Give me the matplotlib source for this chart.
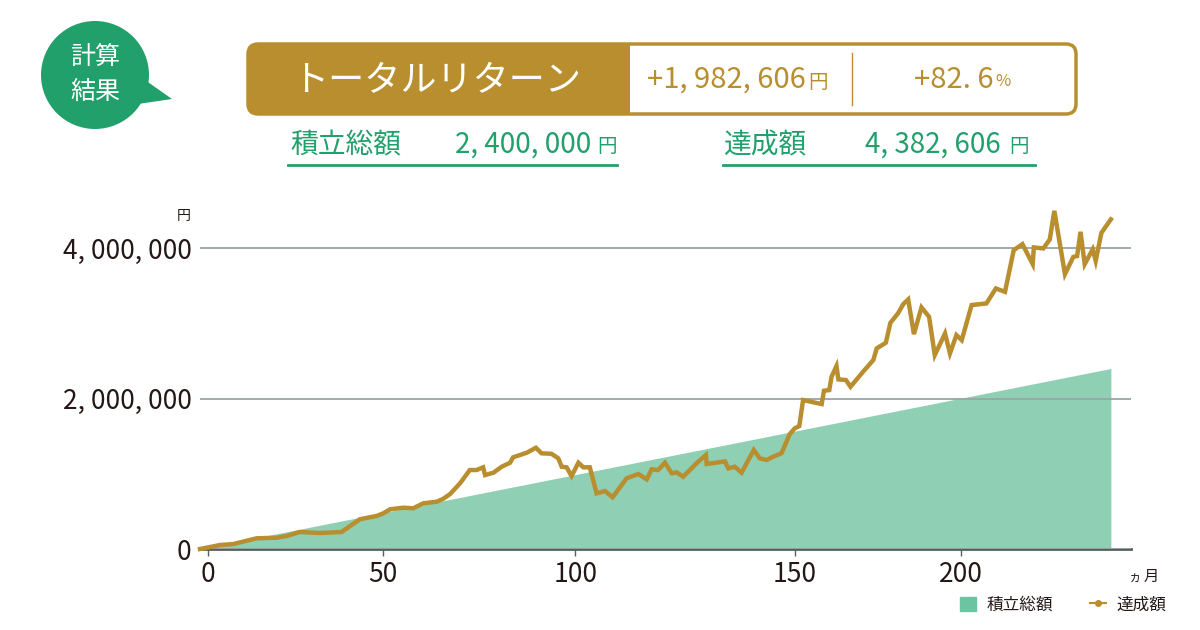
import matplotlib
matplotlib.use('Agg')
import matplotlib.pyplot as plt
from matplotlib.patches import FancyBboxPatch, Rectangle, Circle, Polygon, Patch
from matplotlib.lines import Line2D

plt.rcParams['font.family'] = ['Noto Sans CJK JP', 'DejaVu Sans']

# --- data (month, yen) ---
months = [0, 5.3, 8.8, 14.9, 20.2, 22.8, 26.3, 31.6, 37.3, 42.1, 46.5, 48.3, 50.1, 53.6,
          56.2, 58.8, 62.4, 64.1, 65.9, 68.5, 71.1, 72.9, 74.6, 75.1, 77.3, 79.5, 81.7,
          82.5, 86.1, 88.5, 90.0, 92.6, 94.4, 95.3, 96.6, 97.9, 99.7, 101.0, 102.7, 104.5,
          106.7, 108.7, 112.4, 115.5, 117.7, 119.0, 120.7, 122.5, 124.3, 125.6, 127.3,
          130.8, 133.3, 133.5, 138.3, 139.2, 140.9, 142.7, 145.9, 147.5, 149.3, 151.0,
          153.2, 155.4, 156.7, 157.9, 158.9, 163.8, 164.4, 165.8, 166.4, 167.7, 168.2,
          170.2, 171.4, 174.7, 177.4, 178.3, 180.7, 181.9, 183.9, 185.3, 186.6, 188.1,
          190.1, 192.1, 193.6, 196.3, 197.6, 199.3, 200.7, 203.3, 207.2, 209.7, 212.1,
          214.4, 216.7, 219.4, 219.7, 222.2, 223.9, 225.1, 227.9, 230.1, 231.1, 232.0,
          233.1, 235.2, 236.0, 237.5, 240]
values = [0, 53000, 66000, 142000, 150000, 173000, 226000, 213000, 226000, 395000, 439000,
          474000, 528000, 549000, 541000, 607000, 629000, 668000, 731000, 873000, 1050000,
          1050000, 1086000, 983000, 1014000, 1094000, 1147000, 1219000, 1280000, 1346000,
          1272000, 1266000, 1205000, 1094000, 1086000, 970000, 1147000, 1086000, 1086000,
          740000, 771000, 687000, 940000, 997000, 926000, 1059000, 1050000, 1147000,
          1006000, 1019000, 961000, 1139000, 1249000, 1130000, 1165000, 1072000, 1094000,
          1014000, 1316000, 1205000, 1183000, 1227000, 1272000, 1528000, 1604000, 1635000,
          1980000, 1927000, 2104000, 2113000, 2290000, 2432000, 2255000, 2246000, 2157000,
          2356000, 2512000, 2667000, 2742000, 3007000, 3132000, 3256000, 3318000, 2857000,
          3212000, 3087000, 2578000, 2866000, 2601000, 2844000, 2777000, 3243000, 3265000,
          3464000, 3419000, 3973000, 4053000, 3787000, 4009000, 3996000, 4116000, 4496000,
          3654000, 3884000, 3894000, 4217000, 3787000, 3983000, 3831000, 4203000, 4382606]

contrib_months = [0, 240]
contrib_values = [0, 2400000]

tick_pos = [2.2, 48.1, 98.9, 156.7, 200.6]
tick_labels = ['0', '50', '100', '150', '200']
ytick_vals = [0, 2000000, 4000000]
ytick_labels = ['0', '2, 000, 000', '4, 000, 000']

GOLD = '#b88e2f'
GREEN = '#22a06b'
FILL = '#8fd0b5'
INK = '#231815'

fig = plt.figure(figsize=(12, 6.3), dpi=100)

# --- chart ---
ax = fig.add_axes([200 / 1200, 81 / 630, 931 / 1200, 346 / 630])
ax.fill_between(contrib_months, contrib_values, color=FILL, lw=0, zorder=1)
ax.plot(months, values, color=GOLD, lw=3.2, zorder=3, solid_joinstyle='miter', clip_on=False)
ax.set_xlim(0, 245.3)
ax.set_ylim(0, 4600000)
ax.set_xticks(tick_pos, tick_labels)
ax.set_yticks(ytick_vals, ytick_labels)
ax.yaxis.grid(True, color='#97a5a5', lw=1.3, zorder=2)
ax.set_axisbelow(False)
for s in ['top', 'right', 'left']:
    ax.spines[s].set_visible(False)
ax.spines['bottom'].set_color('#55615f')
ax.spines['bottom'].set_linewidth(2)
ax.spines['bottom'].set_zorder(2.5)
ax.tick_params(axis='y', length=0, pad=6, labelsize=19, labelcolor=INK)
ax.tick_params(axis='x', length=5, width=1, color='#55615f', pad=4, labelsize=19, labelcolor=INK)

# --- overlay in pixel coordinates ---
ov = fig.add_axes([0, 0, 1, 1], zorder=-1)
ov.set_xlim(0, 1200)
ov.set_ylim(630, 0)
ov.axis('off')

ov.text(184, 216, '円', fontsize=10, color=INK, ha='center', va='center')
ov.text(1135, 577, 'ヵ', fontsize=9, color=INK, ha='center', va='center')
ov.text(1151, 576, '月', fontsize=11, color=INK, ha='center', va='center')

# speech bubble
ov.add_patch(Circle((95, 75), 54, color=GREEN, lw=0))
ov.add_patch(Polygon([(145, 80), (172, 99), (138, 104)], closed=True, color=GREEN, lw=0))
ov.text(95, 58, '計算', fontsize=18, color='white', ha='center', va='center')
ov.text(95, 92, '結果', fontsize=18, color='white', ha='center', va='center')

# result box
box = 'round,pad=0,rounding_size=10'
ov.add_patch(FancyBboxPatch((248, 44), 828, 70, boxstyle=box, fc='white', ec='none'))
ov.add_patch(FancyBboxPatch((248, 44), 410, 70, boxstyle=box, fc=GOLD, ec='none'))
ov.add_patch(Rectangle((630, 44), 30, 70, fc='white', ec='none'))
ov.add_patch(FancyBboxPatch((248, 44), 828, 70, boxstyle=box, fc='none', ec=GOLD, lw=2.5))
ov.plot([852, 852], [53, 105], color=GOLD, lw=1)
ov.text(437, 80, 'トータルリターン', fontsize=26, color='white', ha='center', va='center')
ov.text(806, 80, '+1, 982, 606', fontsize=21, color=GOLD, ha='right', va='center')
ov.text(808, 82, '円', fontsize=14, color=GOLD, ha='left', va='center')
ov.text(994, 80, '+82. 6', fontsize=21, color=GOLD, ha='right', va='center')
ov.text(995, 82, '%', fontsize=12, color=GOLD, ha='left', va='center')

# summary lines
ov.text(290, 145, '積立総額', fontsize=20, color=GREEN, ha='left', va='center')
ov.text(591, 145, '2, 400, 000', fontsize=20, color=GREEN, ha='right', va='center')
ov.text(597, 147, '円', fontsize=14, color=GREEN, ha='left', va='center')
ov.plot([288, 617], [165, 165], color=GREEN, lw=2)
ov.text(724, 145, '達成額', fontsize=20, color=GREEN, ha='left', va='center')
ov.text(1001, 145, '4, 382, 606', fontsize=20, color=GREEN, ha='right', va='center')
ov.text(1009, 147, '円', fontsize=14, color=GREEN, ha='left', va='center')
ov.plot([723, 1035], [165, 165], color=GREEN, lw=2)

# legend
handles = [Patch(color='#6cc4a0'), Line2D([], [], color=GOLD, lw=1.5, marker='o', markersize=4)]
fig.legend(handles, ['積立総額', '達成額'], loc='center', bbox_to_anchor=(1063 / 1200, 1 - 605 / 630),
           ncol=2, frameon=False, fontsize=12, handlelength=1.0, handleheight=0.9,
           handletextpad=0.6, columnspacing=2.2, labelcolor=INK)

fig.savefig('out.png', dpi=100)
